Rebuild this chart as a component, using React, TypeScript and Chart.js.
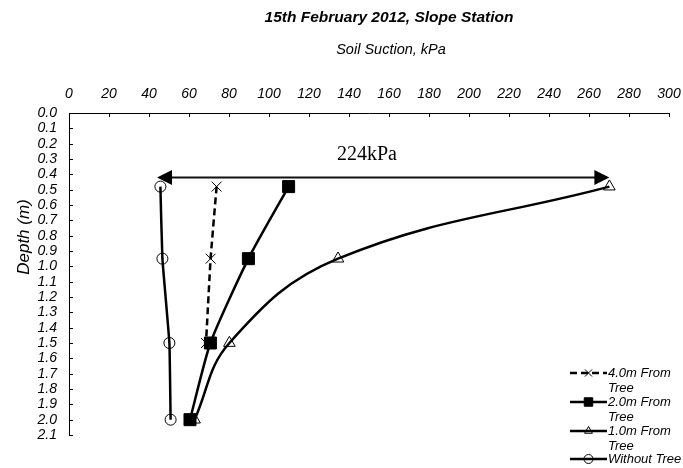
import React, { useEffect, useRef } from "react";
import { Chart, registerables } from "chart.js";
import { drawPoint } from "chart.js/helpers";

Chart.register(...registerables);

// ---- data ----
const chartTitle = "15th February 2012, Slope Station";
const xAxisTitle = "Soil Suction, kPa";
const yAxisTitle = "Depth (m)";

const depths = [0.48, 0.95, 1.5, 2.0];
const suction4m = [73.8, 70.8, 68.5];
const suction2m = [109.8, 89.7, 70.7, 60.5];
const suction1m = [270.2, 134.5, 80.2, 62.8];
const suctionNoTree = [45.7, 46.7, 50.2, 50.8];

const seriesLabels = ["4.0m From Tree", "2.0m From Tree", "1.0m From Tree", "Without Tree"];
const legendLines = [["4.0m From", "Tree"], ["2.0m From", "Tree"], ["1.0m From", "Tree"], ["Without Tree"]];

const xMin = 0;
const xMax = 300;
const xStep = 20;
const yMin = 0;
const yMax = 2.1;
const yStep = 0.1;

const arrowDepth = 0.42;
const arrowFrom = 44;
const arrowTo = 270.2;
const arrowLabel = "224kPa";
const arrowLabelX = 149;
const arrowLabelDepth = 0.305;

const SANS = '"Liberation Sans", Arial, sans-serif';
const SERIF = '"Liberation Serif", "Times New Roman", serif';

function pts(xs: number[]) {
  return xs.map((v, i) => ({ x: v, y: depths[i] }));
}

const overlay = {
  id: "overlay",
  afterDraw(chart: any) {
    const { ctx, chartArea, scales } = chart;
    const x = scales.x;
    const y = scales.y;
    ctx.save();
    ctx.strokeStyle = "#000";
    ctx.fillStyle = "#000";
    ctx.lineWidth = 1;
    // inner tick marks
    x.ticks.forEach((t: any) => {
      const px = Math.round(x.getPixelForValue(t.value)) + 0.5;
      ctx.beginPath();
      ctx.moveTo(px, chartArea.top);
      ctx.lineTo(px, chartArea.top + 4);
      ctx.stroke();
    });
    y.ticks.forEach((t: any) => {
      const py = Math.round(y.getPixelForValue(t.value)) + 0.5;
      ctx.beginPath();
      ctx.moveTo(chartArea.left, py);
      ctx.lineTo(chartArea.left + 4, py);
      ctx.stroke();
    });

    // arrow
    const ay = y.getPixelForValue(arrowDepth);
    const ax1 = x.getPixelForValue(arrowFrom);
    const ax2 = x.getPixelForValue(arrowTo);
    const headL = 15;
    const headH = 7.5;
    ctx.lineWidth = 2;
    ctx.strokeStyle = "#111";
    ctx.beginPath();
    ctx.moveTo(ax1 + headL - 2, ay);
    ctx.lineTo(ax2 - headL + 2, ay);
    ctx.stroke();
    ctx.beginPath();
    ctx.moveTo(ax1, ay);
    ctx.lineTo(ax1 + headL, ay - headH);
    ctx.lineTo(ax1 + headL, ay + headH);
    ctx.closePath();
    ctx.fill();
    ctx.beginPath();
    ctx.moveTo(ax2, ay);
    ctx.lineTo(ax2 - headL, ay - headH);
    ctx.lineTo(ax2 - headL, ay + headH);
    ctx.closePath();
    ctx.fill();

    ctx.font = `20px ${SERIF}`;
    ctx.textAlign = "center";
    ctx.textBaseline = "alphabetic";
    ctx.fillText(arrowLabel, x.getPixelForValue(arrowLabelX), y.getPixelForValue(arrowLabelDepth));

    // titles
    ctx.textBaseline = "middle";
    ctx.font = `italic bold 15.5px ${SANS}`;
    ctx.fillText(chartTitle, 389, 18);
    ctx.font = `italic 14.5px ${SANS}`;
    ctx.fillText(xAxisTitle, 391, 50);
    ctx.save();
    ctx.translate(24, 237);
    ctx.rotate(-Math.PI / 2);
    ctx.font = `italic 17px ${SANS}`;
    ctx.fillText(yAxisTitle, 0, 0);
    ctx.restore();

    // legend
    const rows = [373, 402, 431, 459];
    chart.data.datasets.forEach((ds: any, i: number) => {
      const ry = rows[i];
      ctx.save();
      ctx.strokeStyle = "#000";
      ctx.fillStyle = "#000";
      ctx.lineWidth = 2.5;
      ctx.setLineDash(ds.borderDash || []);
      ctx.beginPath();
      ctx.moveTo(570, ry);
      ctx.lineTo(607, ry);
      ctx.stroke();
      ctx.setLineDash([]);
      ctx.fillStyle = ds.pointBackgroundColor;
      ctx.strokeStyle = "#000";
      ctx.lineWidth = 1;
      drawPoint(ctx, {
        pointStyle: ds.pointStyle,
        radius: ds.legendRadius,
        rotation: 0,
        borderWidth: 1,
      }, 588.5, ry);
      ctx.restore();
      ctx.fillStyle = "#000";
      ctx.textAlign = "left";
      ctx.textBaseline = "middle";
      ctx.font = `italic 13px ${SANS}`;
      legendLines[i].forEach((line, k) => {
        ctx.fillText(line, 608, ry + k * 15.5);
      });
    });
    ctx.restore();
  },
};

export default function App() {
  const ref = useRef<HTMLCanvasElement | null>(null);

  useEffect(() => {
    document.body.style.margin = "0";
    const canvas = ref.current;
    if (!canvas) return;
    const base = {
      showLine: true,
      borderColor: "#000",
      borderWidth: 2.5,
      pointBorderColor: "#000",
      pointBorderWidth: 1,
      pointHoverRadius: 0,
    };
    const chart = new Chart(canvas, {
      type: "scatter",
      data: {
        datasets: [
          {
            ...base,
            label: seriesLabels[0],
            data: pts(suction4m),
            borderDash: [7, 4],
            tension: 0.1,
            pointStyle: "crossRot",
            pointRadius: 7,
            pointBackgroundColor: "rgba(0,0,0,0)",
            legendRadius: 5,
          } as any,
          {
            ...base,
            label: seriesLabels[1],
            data: pts(suction2m),
            tension: 0.2,
            pointStyle: "rect",
            pointRadius: 8.5,
            pointBackgroundColor: "#000",
            legendRadius: 6,
          } as any,
          {
            ...base,
            label: seriesLabels[2],
            data: pts(suction1m),
            tension: 0.4,
            pointStyle: "triangle",
            pointRadius: 6.7,
            pointBackgroundColor: "rgba(0,0,0,0)",
            legendRadius: 4.5,
          } as any,
          {
            ...base,
            label: seriesLabels[3],
            data: pts(suctionNoTree),
            tension: 0.1,
            pointStyle: "circle",
            pointRadius: 5.5,
            pointBackgroundColor: "rgba(0,0,0,0)",
            legendRadius: 4.5,
          } as any,
        ],
      },
      options: {
        animation: false,
        responsive: false,
        devicePixelRatio: 1,
        events: [],
        layout: { padding: { left: 0, right: 14, top: 0, bottom: 33 } },
        plugins: {
          legend: { display: false },
          title: { display: false },
          tooltip: { enabled: false },
        },
        scales: {
          x: {
            type: "linear",
            position: "top",
            min: xMin,
            max: xMax,
            grid: { display: false, drawTicks: false },
            border: { display: true, color: "#000", width: 1 },
            ticks: {
              stepSize: xStep,
              autoSkip: false,
              maxRotation: 0,
              padding: 10,
              color: "#000",
              font: { family: SANS, size: 14, style: "italic" },
            },
            afterFit: (s: any) => {
              s.height = 113;
              s.paddingLeft = 0;
              s.paddingRight = 0;
            },
          },
          y: {
            type: "linear",
            reverse: true,
            min: yMin,
            max: yMax,
            grid: { display: false, drawTicks: false },
            border: { display: true, color: "#000", width: 1 },
            ticks: {
              stepSize: yStep,
              autoSkip: false,
              padding: 12,
              color: "#000",
              font: { family: SANS, size: 14, style: "italic" },
              callback: (v: any) => Number(v).toFixed(1),
            },
            afterFit: (s: any) => {
              s.width = 69;
              s.paddingTop = 0;
              s.paddingBottom = 0;
            },
          },
        },
      },
      plugins: [overlay],
    });
    return () => chart.destroy();
  }, []);

  return (
    <div style={{ width: 683, height: 468 }}>
      <canvas ref={ref} width={683} height={468} />
    </div>
  );
}
